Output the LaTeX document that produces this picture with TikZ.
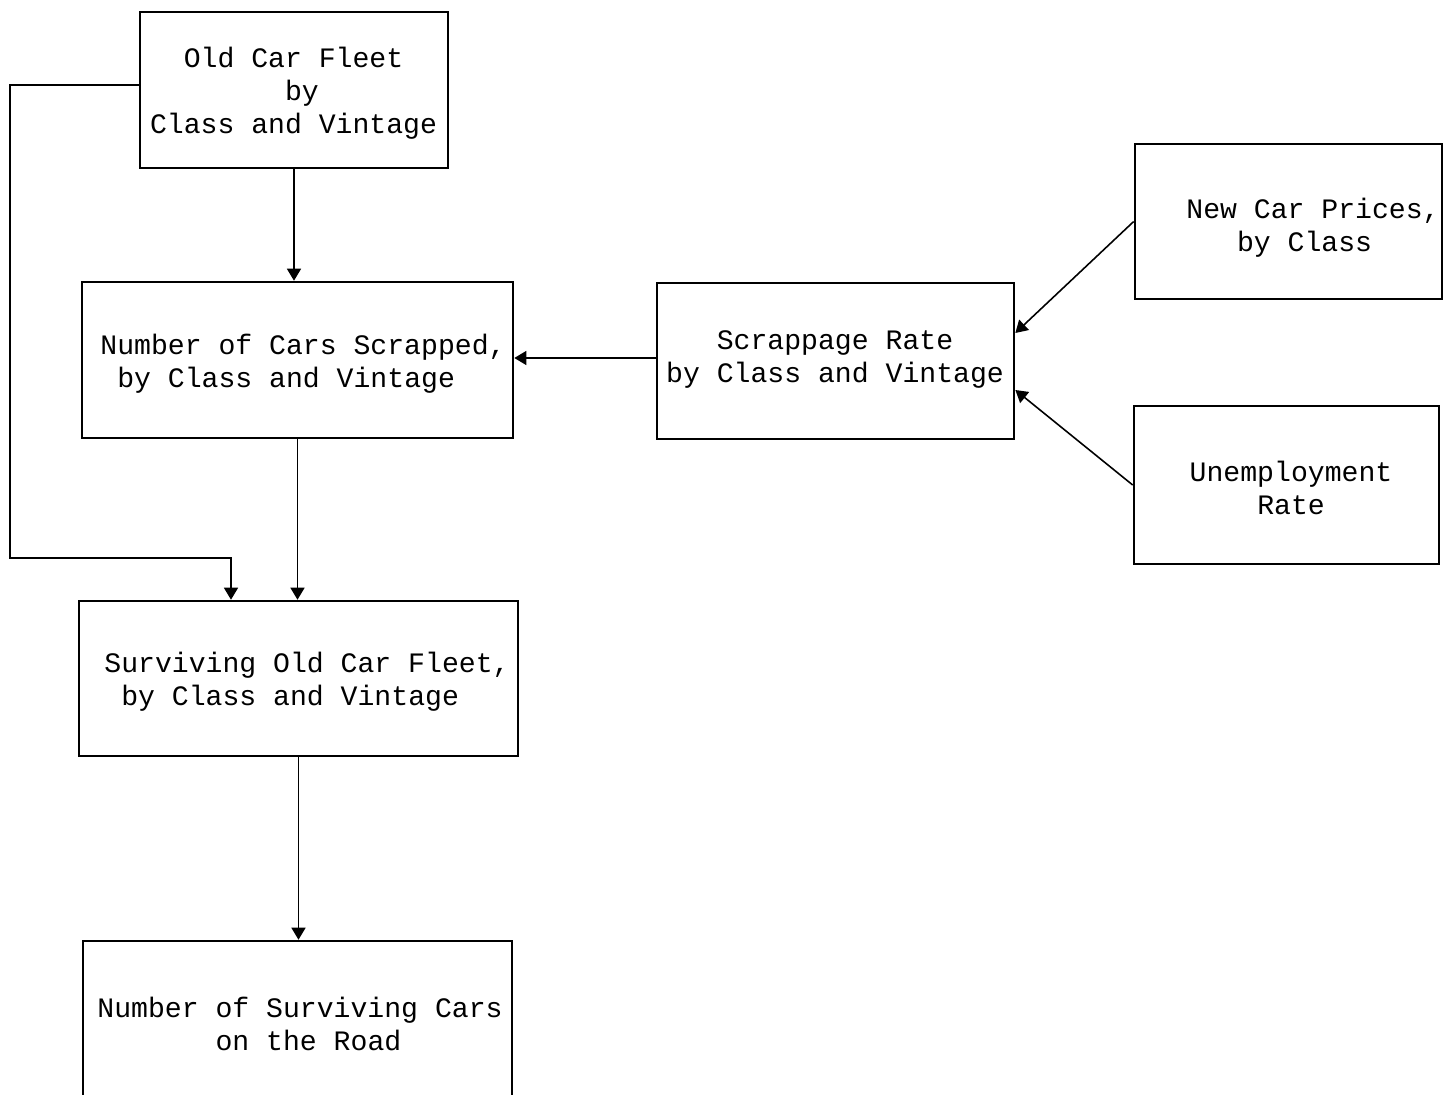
\documentclass[tikz,border=0pt]{standalone}
\usepackage{fontspec}
\setmonofont{Liberation Mono}
\usetikzlibrary{arrows.meta,calc}
\newcommand\ind[1]{\hphantom{#1}}
\begin{document}
\begin{tikzpicture}[x=0.01cm,y=-0.01cm,
  box/.style={draw,line width=0.7pt,rectangle,inner sep=0pt},
  txt/.style={font=\ttfamily\fontsize{8pt}{9.4pt}\selectfont,align=left,inner sep=0pt},
  arr/.style={line width=0.45pt,-{Triangle[length=0.12cm,width=0.14cm]}}]
\useasboundingbox[fill=white] (0,0) rectangle (1452,1094);
% boxes
\node[box,minimum width=3.08cm,minimum height=1.56cm] (ocf) at (294,90) {};
\node[box,minimum width=4.31cm,minimum height=1.56cm] (ncs) at (297.5,360) {};
\node[box,minimum width=3.57cm,minimum height=1.56cm] (sr) at (835.5,361) {};
\node[box,minimum width=3.07cm,minimum height=1.55cm] (ncp) at (1288.5,221.5) {};
\node[box,minimum width=3.05cm,minimum height=1.58cm] (ur) at (1286.5,485) {};
\node[box,minimum width=4.39cm,minimum height=1.55cm] (sof) at (298.5,678.5) {};
\node[box,minimum width=4.29cm,minimum height=1.69cm] (nsc) at (297.5,1025.5) {};
% texts
\node[txt] (ocft) at (293.5,93) {\ind{MM}Old Car Fleet\\\ind{MMMMMMMM}by\\Class and Vintage};
\node[txt] (ncst) at (303,363.5) {Number of Cars Scrapped,\\\ind{M}by Class and Vintage};
\node[txt] (srt) at (835,359.5) {\ind{MMM}Scrappage Rate\\by Class and Vintage};
\node[txt] (ncpt) at (1313,228) {New Car Prices,\\\ind{MMM}by Class};
\node[txt] (urt) at (1291,488) {Unemployment\\\ind{MMMM}Rate};
\node[txt] (soft) at (307,681.5) {Surviving Old Car Fleet,\\\ind{M}by Class and Vintage};
\node[txt] (nsct) at (300,1024) {Number of Surviving Cars\\\ind{MMMMMMM}on the Road};
% connectors
\coordinate (c1) at (10,558);
\coordinate (c2) at (231,558);
\draw[arr] (ocf.south) -- (ocf.south |- ncs.north);
\draw[arr] ($(ocf.west)+(0,-5)$) -| (c1) -- (c2) -- (c2 |- sof.north);
\draw[arr] (ncs.south) -- (ncs.south |- sof.north);
\draw[arr] ($(sr.west)+(0,-3)$) -- ($(sr.west -| ncs.east)+(0,-3)$);
\draw[arr] (ncp.west) -- ($(sr.east)+(0,-28)$);
\draw[arr] (ur.west) -- ($(sr.east)+(0,29)$);
\draw[arr] (sof.south) -- (sof.south |- nsc.north);
\end{tikzpicture}
\end{document}
